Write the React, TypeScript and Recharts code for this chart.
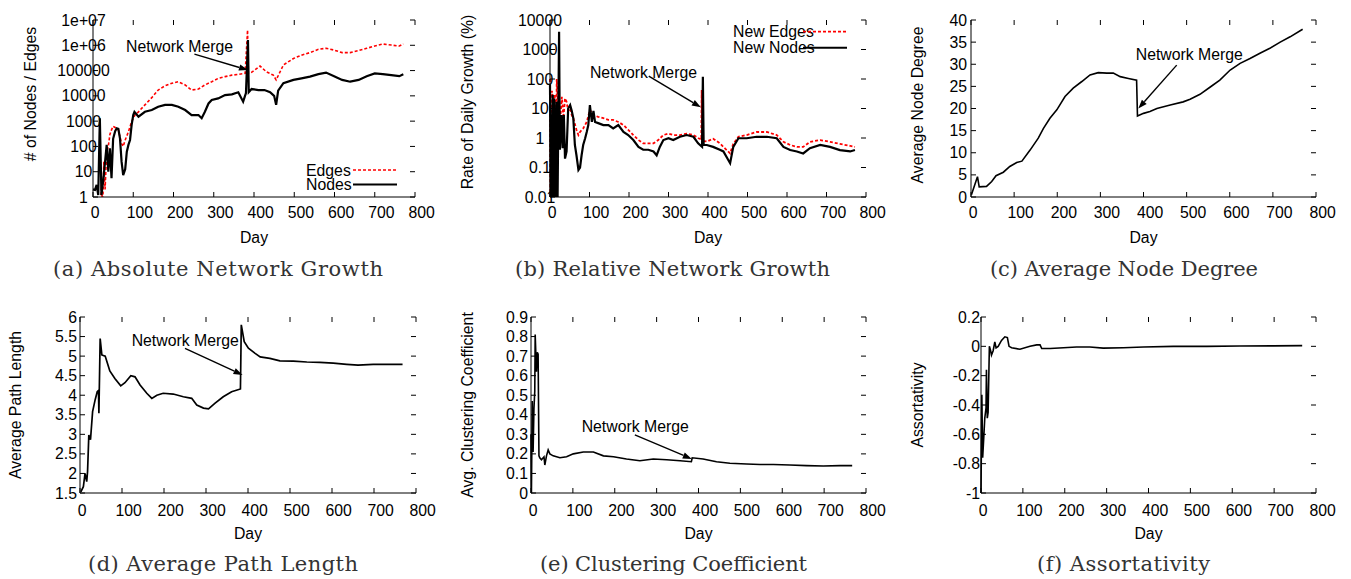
import React from "react";
import {
  Legend,
  Line,
  LineChart,
  ReferenceDot,
  ReferenceLine,
  XAxis,
  YAxis,
} from "recharts";

const FONT = '"Liberation Sans", Arial, Helvetica, sans-serif';
const FS = 15.8;
const TICK = 5;

const dayTicks = [0, 100, 200, 300, 400, 500, 600, 700, 800];

// (a) absolute network growth
const absNodeDays = [0, 5, 9, 13, 17, 21, 26, 30, 34, 38, 42, 46, 50, 55, 59, 63, 67, 71, 75, 80, 84, 88, 92, 96, 100, 103, 113, 129, 146, 162, 179, 196, 212, 229, 245, 262, 270, 278, 287, 295, 311, 328, 345, 361, 373, 380, 385, 387, 394, 411, 426, 440, 450, 455, 460, 473, 498, 518, 539, 560, 579, 599, 619, 639, 660, 680, 700, 720, 741, 761, 771];
const absNodes = [2, 1.9, 3, 1.2, 1300, 1.2, 5.6, 25, 115, 10, 85, 5.6, 200, 400, 520, 500, 210, 25, 7.4, 12.6, 62, 115, 180, 710, 1740, 2340, 1500, 2340, 2750, 3700, 4400, 4400, 3700, 2750, 1740, 1740, 1300, 2340, 5000, 6900, 7900, 10700, 11500, 13800, 5900, 13000, 1600000, 14000, 18600, 17000, 17000, 14000, 10000, 4400, 16000, 31600, 42700, 49000, 57500, 72400, 83000, 60000, 42700, 36300, 42700, 60000, 77600, 72400, 66000, 60000, 70800];
const absEdgeDays = [18, 21, 24, 27, 30, 34, 38, 42, 46, 50, 55, 63, 71, 75, 80, 88, 96, 104, 113, 129, 146, 162, 179, 196, 212, 229, 245, 262, 278, 295, 311, 328, 345, 361, 378, 384, 386, 394, 415, 431, 448, 455, 473, 498, 518, 539, 560, 579, 599, 619, 639, 660, 680, 700, 720, 741, 761, 771];
const absEdges = [0.3, 3, 0.4, 25, 2, 60, 100, 300, 450, 630, 560, 450, 130, 100, 180, 380, 950, 1740, 2340, 4400, 8500, 17000, 25000, 31600, 36300, 27000, 17000, 18600, 27000, 36300, 49000, 57500, 66000, 70800, 77600, 4000000, 80000, 85000, 150000, 89000, 66000, 42700, 166000, 300000, 407000, 513000, 692000, 760000, 646000, 513000, 513000, 617000, 760000, 933000, 1120000, 1020000, 933000, 1120000];
const absTicks = [1, 10, 100, 1000, 10000, 100000, 1000000, 10000000];
const absTickLabels = ["1", "10", "100", "1000", "10000", "100000", "1e+06", "1e+07"];

// (b) relative network growth, % per day
const relNodeDays = [0, 2, 7, 8, 11, 13, 17, 19, 23, 25, 29, 32, 35, 38, 42, 46, 51, 55, 59, 63, 67, 72, 76, 80, 84, 89, 93, 97, 101, 106, 110, 114, 122, 135, 148, 160, 173, 186, 198, 211, 224, 236, 249, 262, 270, 278, 287, 300, 312, 329, 346, 363, 375, 385, 387, 389, 397, 413, 430, 439, 456, 464, 477, 498, 523, 549, 574, 591, 608, 625, 641, 658, 684, 709, 734, 760, 772];
const relNodes = [63, 0.005, 29, 0.005, 22, 0.005, 17, 0.005, 4000, 0.4, 6, 0.45, 6, 0.2, 0.35, 10, 13, 8.3, 4.7, 0.58, 0.26, 0.083, 0.1, 0.26, 0.58, 0.98, 1.6, 2.75, 13, 3.5, 8.3, 3.5, 3.2, 2.75, 2.75, 2.1, 2.75, 1.6, 1.26, 0.85, 0.5, 0.4, 0.4, 0.35, 0.26, 0.5, 0.85, 0.98, 0.85, 1.1, 1.26, 1.1, 0.66, 0.5, 120, 0.58, 0.58, 0.5, 0.4, 0.35, 0.14, 0.5, 0.98, 0.98, 1.1, 1.1, 0.98, 0.5, 0.39, 0.35, 0.3, 0.45, 0.58, 0.5, 0.39, 0.35, 0.39];
const relEdgeDays = [0, 1, 5, 8, 12, 15, 17, 21, 25, 30, 34, 38, 42, 46, 51, 55, 59, 67, 72, 76, 84, 93, 101, 110, 122, 135, 148, 160, 173, 186, 198, 211, 224, 236, 249, 262, 274, 287, 300, 312, 329, 346, 363, 376, 383, 384, 385, 397, 413, 430, 439, 456, 464, 477, 498, 523, 549, 574, 591, 608, 625, 641, 658, 684, 709, 734, 760, 772];
const relEdges = [100, 0.005, 40, 12, 30, 0.005, 100, 8, 2.75, 25, 4.7, 22, 17, 8.3, 10, 6, 4.7, 1.9, 1.26, 1.6, 2.1, 3.5, 8.9, 6, 5.2, 4.7, 4.1, 4.1, 3.5, 2.75, 1.9, 1.26, 0.85, 0.66, 0.66, 0.66, 0.85, 1.26, 1.4, 1.26, 1.26, 1.4, 1.26, 0.98, 0.9, 42, 0.8, 0.76, 0.95, 0.66, 0.5, 0.3, 0.63, 1.1, 1.26, 1.6, 1.6, 1.26, 0.74, 0.58, 0.5, 0.5, 0.74, 0.85, 0.74, 0.63, 0.54, 0.5];
const relTicks = [0.01, 0.1, 1, 10, 100, 1000, 10000];
const relTickLabels = ["0.01", "0.1", "1", "10", "100", "1000", "10000"];

// (c) average node degree
const degreeDays = [1, 15, 19, 36, 48, 58, 75, 90, 106, 118, 137, 156, 168, 183, 199, 218, 237, 257, 276, 295, 315, 330, 346, 365, 384, 386, 400, 415, 431, 462, 492, 508, 531, 554, 577, 601, 624, 647, 670, 693, 717, 740, 769];
const degree = [0.5, 4.6, 2.3, 2.4, 3.5, 4.8, 5.6, 6.9, 7.8, 8.1, 10.6, 13.3, 15.5, 17.8, 19.7, 22.7, 24.6, 26.1, 27.6, 28.1, 28.0, 28.0, 27.2, 26.8, 26.4, 18.3, 18.9, 19.3, 20.0, 20.8, 21.5, 22.1, 23.2, 24.8, 26.4, 28.7, 30.2, 31.3, 32.5, 33.6, 35.0, 36.2, 37.9];
const degreeTicks = [0, 5, 10, 15, 20, 25, 30, 35, 40];

// (d) average path length
const pathDays = [2, 8, 12, 16, 18, 21, 25, 30, 36, 41, 44, 45, 48, 52, 60, 64, 71, 83, 97, 107, 121, 131, 143, 159, 171, 183, 198, 222, 246, 266, 278, 294, 306, 321, 341, 361, 382, 384, 391, 401, 417, 429, 452, 476, 508, 540, 571, 603, 635, 662, 698, 730, 768];
const pathLength = [1.53, 1.66, 2.0, 1.79, 2.05, 2.98, 2.86, 3.58, 3.88, 4.09, 4.12, 3.54, 5.45, 5.03, 5.0, 4.86, 4.62, 4.43, 4.24, 4.32, 4.5, 4.47, 4.26, 4.05, 3.92, 4.0, 4.05, 4.03, 3.96, 3.92, 3.75, 3.67, 3.65, 3.79, 3.96, 4.09, 4.16, 5.8, 5.37, 5.2, 5.07, 4.98, 4.94, 4.88, 4.87, 4.85, 4.84, 4.82, 4.79, 4.77, 4.79, 4.79, 4.79];
const pathTicks = [1.5, 2, 2.5, 3, 3.5, 4, 4.5, 5, 5.5, 6];

// (e) clustering coefficient
const clusterDays = [0, 1, 3, 5, 7, 9, 10, 13, 15, 17, 19, 21, 25, 31, 33, 37, 41, 45, 53, 69, 85, 101, 125, 149, 173, 197, 228, 260, 292, 324, 356, 383, 385, 411, 443, 475, 515, 547, 579, 618, 658, 698, 738, 767];
const cluster = [0.3, 0, 0.47, 0.21, 0.43, 0.52, 0.81, 0.62, 0.72, 0.71, 0.19, 0.18, 0.17, 0.185, 0.143, 0.19, 0.22, 0.2, 0.19, 0.18, 0.185, 0.2, 0.21, 0.21, 0.19, 0.185, 0.174, 0.165, 0.174, 0.17, 0.165, 0.16, 0.18, 0.174, 0.16, 0.152, 0.148, 0.146, 0.146, 0.143, 0.14, 0.138, 0.14, 0.14];
const clusterTicks = [0, 0.1, 0.2, 0.3, 0.4, 0.5, 0.6, 0.7, 0.8, 0.9];

// (f) assortativity
const assortDays = [0, 2, 4, 7, 9, 12, 13, 15, 17, 20, 23, 25, 29, 33, 36, 41, 49, 57, 63, 67, 73, 93, 117, 133, 141, 145, 165, 197, 228, 260, 292, 340, 388, 459, 539, 618, 698, 767];
const assort = [-1.0, -0.33, -0.76, -0.6, -0.49, -0.42, -0.16, -0.49, -0.45, 0.0, -0.03, -0.06, -0.03, 0.03, -0.01, 0.0, 0.04, 0.065, 0.06, 0.0, -0.01, -0.02, 0.0, 0.01, 0.01, -0.015, -0.015, -0.01, -0.005, -0.005, -0.012, -0.01, -0.005, 0.0, 0.0, 0.002, 0.003, 0.005];
const assortTicks = [-1, -0.8, -0.6, -0.4, -0.2, 0, 0.2];

const pts = (days: number[], vals: number[]) =>
  days.map((d, i) => ({ d, v: vals[i] }));

const txt = { fontFamily: FONT, fontSize: FS, fill: "#000" };

type Rect = { left: number; right: number; top: number; bottom: number };

// gnuplot/matlab style: inward ticks on all four sides
function xTick(plot: Rect, labelY: number) {
  return (props: any) => {
    const { x, payload } = props;
    const label = String(payload.value);
    return (
      <g>
        <line x1={x} x2={x} y1={plot.bottom} y2={plot.bottom - TICK} stroke="#000" />
        <line x1={x} x2={x} y1={plot.top} y2={plot.top + TICK} stroke="#000" />
        <text x={x + 2.2 * label.length} y={labelY} textAnchor="middle" dominantBaseline="central" {...txt}>
          {label}
        </text>
      </g>
    );
  };
}

function yTick(plot: Rect, ticks: number[], labels: string[], labelX: number, anchor: "middle" | "end") {
  return (props: any) => {
    const { y, payload } = props;
    const i = ticks.indexOf(payload.value);
    return (
      <g>
        <line x1={plot.left} x2={plot.left + TICK} y1={y} y2={y} stroke="#000" />
        <line x1={plot.right} x2={plot.right - TICK} y1={y} y2={y} stroke="#000" />
        <text x={labelX} y={y} textAnchor={anchor} dominantBaseline="central" {...txt}>
          {i >= 0 ? labels[i] : String(payload.value)}
        </text>
      </g>
    );
  };
}

function arrowShape(props: any) {
  const { x1, y1, x2, y2 } = props;
  const a = Math.atan2(y2 - y1, x2 - x1);
  const len = 9;
  const half = 3.2;
  const bx = x2 - len * Math.cos(a);
  const by = y2 - len * Math.sin(a);
  const px = -Math.sin(a) * half;
  const py = Math.cos(a) * half;
  return (
    <g>
      <line x1={x1} y1={y1} x2={bx} y2={by} stroke="#000" strokeWidth={1.4} />
      <polygon points={`${x2},${y2} ${bx + px},${by + py} ${bx - px},${by - py}`} fill="#000" />
    </g>
  );
}

const mergeText = (props: any) => (
  <text x={props.cx} y={props.cy} dominantBaseline="central" {...txt}>
    Network Merge
  </text>
);

type Series = { name: string; data: { d: number; v: number }[]; stroke: string; width: number; dash?: string };
type KeyItem = { label: string; y: number; stroke: string; width: number; dash?: string };

interface PanelProps {
  left: number;
  top: number;
  width: number;
  height: number;
  plot: Rect;
  xLabelY: number;
  scale: "log" | "linear";
  domain: [number, number];
  ticks: number[];
  labels: string[];
  labelX: number;
  anchor: "middle" | "end";
  yTitle: string;
  yTitleAt: [number, number];
  dayAt: [number, number];
  series: Series[];
  merge?: { text: [number, number]; from: [number, number]; to: [number, number] };
  keyBox?: { left: number; top: number; width: number; lineFrom: number; lineTo: number; items: KeyItem[] };
}

function Panel(p: PanelProps) {
  const margin = { top: p.plot.top, right: p.width - p.plot.right, bottom: 0, left: 0 };
  return (
    <div style={{ position: "absolute", left: p.left, top: p.top }}>
      <LineChart width={p.width} height={p.height} margin={margin}>
        <XAxis
          dataKey="d"
          type="number"
          domain={[0, 800]}
          ticks={dayTicks}
          interval={0}
          height={p.height - p.plot.bottom}
          axisLine={{ stroke: "#000" }}
          tickLine={false}
          tick={xTick(p.plot, p.xLabelY)}
          label={() => (
            <text x={p.dayAt[0]} y={p.dayAt[1]} textAnchor="middle" dominantBaseline="central" {...txt}>
              Day
            </text>
          )}
        />
        <XAxis xAxisId="top" orientation="top" type="number" domain={[0, 800]} height={0} tick={false} tickLine={false} axisLine={{ stroke: "#000" }} />
        <YAxis
          type="number"
          scale={p.scale}
          domain={p.domain}
          ticks={p.ticks}
          interval={0}
          allowDataOverflow
          width={p.plot.left}
          axisLine={{ stroke: "#000" }}
          tickLine={false}
          tick={yTick(p.plot, p.ticks, p.labels, p.labelX, p.anchor)}
          label={() => (
            <text
              x={p.yTitleAt[0]}
              y={p.yTitleAt[1]}
              transform={`rotate(-90 ${p.yTitleAt[0]} ${p.yTitleAt[1]})`}
              textAnchor="middle"
              dominantBaseline="central"
              {...txt}
            >
              {p.yTitle}
            </text>
          )}
        />
        <YAxis yAxisId="right" orientation="right" type="number" domain={[0, 1]} width={0} tick={false} tickLine={false} axisLine={{ stroke: "#000" }} />
        {p.series.map((s) => (
          <Line
            key={s.name}
            name={s.name}
            data={s.data}
            dataKey="v"
            type="linear"
            stroke={s.stroke}
            strokeWidth={s.width}
            strokeDasharray={s.dash}
            dot={false}
            activeDot={false}
            isAnimationActive={false}
          />
        ))}
        {p.merge && (
          <ReferenceLine
            segment={[
              { x: p.merge.from[0], y: p.merge.from[1] },
              { x: p.merge.to[0], y: p.merge.to[1] },
            ]}
            shape={arrowShape}
          />
        )}
        {p.merge && <ReferenceDot x={p.merge.text[0]} y={p.merge.text[1]} shape={mergeText} />}
        {p.keyBox && (
          <Legend
            layout="horizontal"
            verticalAlign="middle"
            align="center"
            wrapperStyle={{ left: p.keyBox.left, top: p.keyBox.top, width: p.keyBox.width, height: 36, lineHeight: 0 }}
            content={() => (
              <svg width={p.keyBox!.width} height={36} style={{ display: "block" }}>
                {p.keyBox!.items.map((k) => (
                  <g key={k.label}>
                    <text x={0} y={k.y} dominantBaseline="central" {...txt}>
                      {k.label}
                    </text>
                    <line x1={p.keyBox!.lineFrom} x2={p.keyBox!.lineTo} y1={k.y} y2={k.y} stroke={k.stroke} strokeWidth={k.width} strokeDasharray={k.dash} />
                  </g>
                ))}
              </svg>
            )}
          />
        )}
      </LineChart>
    </div>
  );
}

function Caption({ x, y, w, children }: { x: number; y: number; w: number; children: string }) {
  return (
    <text x={x} y={y} textAnchor="middle" textLength={w} lengthAdjust="spacing" fontFamily='"DejaVu Serif", serif' fontSize={21} fill="#333">
      {children}
    </text>
  );
}

const RED = "#ff0000";
const BLACK = "#000000";

export default function App() {
  return (
    <div style={{ position: "absolute", left: 0, top: 0, width: 1351, height: 579, background: "#fff" }}>
      <Panel
        left={0} top={0} width={440} height={250}
        plot={{ left: 93, right: 415, top: 20, bottom: 197 }}
        xLabelY={212}
        scale="log" domain={[1, 10000000]} ticks={absTicks} labels={absTickLabels}
        labelX={83.5} anchor="middle"
        yTitle="# of Nodes / Edges" yTitleAt={[30, 94]} dayAt={[254, 237]}
        series={[
          { name: "Edges", data: pts(absEdgeDays, absEdges), stroke: RED, width: 1.6, dash: "3 2" },
          { name: "Nodes", data: pts(absNodeDays, absNodes), stroke: BLACK, width: 2.2 },
        ]}
        merge={{ text: [82, 880000], from: [252, 450000], to: [385, 105000] }}
        keyBox={{
          left: 306, top: 160, width: 100, lineFrom: 47, lineTo: 91,
          items: [
            { label: "Edges", y: 10, stroke: RED, width: 1.6, dash: "3 2" },
            { label: "Nodes", y: 24.5, stroke: BLACK, width: 2 },
          ],
        }}
      />
      <Panel
        left={440} top={0} width={460} height={250}
        plot={{ left: 110, right: 426, top: 20, bottom: 197 }}
        xLabelY={212}
        scale="log" domain={[0.01, 10000]} ticks={relTicks} labels={relTickLabels}
        labelX={100} anchor="middle"
        yTitle="Rate of Daily Growth (%)" yTitleAt={[27, 102]} dayAt={[268, 237]}
        series={[
          { name: "New Edges", data: pts(relEdgeDays, relEdges), stroke: RED, width: 1.8, dash: "3 2" },
          { name: "New Nodes", data: pts(relNodeDays, relNodes), stroke: BLACK, width: 2.2 },
        ]}
        merge={{ text: [101, 172], from: [250, 125], to: [382, 11] }}
        keyBox={{
          left: 293, top: 20, width: 120, lineFrom: 70, lineTo: 114,
          items: [
            { label: "New Edges", y: 11.7, stroke: RED, width: 1.8, dash: "3 2" },
            { label: "New Nodes", y: 27.7, stroke: BLACK, width: 2 },
          ],
        }}
      />
      <Panel
        left={880} top={0} width={471} height={250}
        plot={{ left: 91, right: 436, top: 20, bottom: 197 }}
        xLabelY={212}
        scale="linear" domain={[0, 40]} ticks={degreeTicks} labels={degreeTicks.map(String)}
        labelX={87} anchor="end"
        yTitle="Average Node Degree" yTitleAt={[37, 105]} dayAt={[263.5, 237]}
        series={[{ name: "Degree", data: pts(degreeDays, degree), stroke: BLACK, width: 1.6 }]}
        merge={{ text: [382, 32.1], from: [477, 29.8], to: [388, 20.0] }}
      />
      <Panel
        left={0} top={290} width={440} height={255}
        plot={{ left: 80, right: 416, top: 27, bottom: 203 }}
        xLabelY={220.5}
        scale="linear" domain={[1.5, 6]} ticks={pathTicks} labels={pathTicks.map(String)}
        labelX={77} anchor="end"
        yTitle="Average Path Length" yTitleAt={[15, 115]} dayAt={[248, 243]}
        series={[{ name: "Path", data: pts(pathDays, pathLength), stroke: BLACK, width: 1.7 }]}
        merge={{ text: [123, 5.41], from: [250, 5.2], to: [387, 4.52] }}
      />
      <Panel
        left={440} top={290} width={460} height={255}
        plot={{ left: 91, right: 426, top: 27, bottom: 203 }}
        xLabelY={220.5}
        scale="linear" domain={[0, 0.9]} ticks={clusterTicks} labels={clusterTicks.map(String)}
        labelX={88} anchor="end"
        yTitle="Avg. Clustering Coefficient" yTitleAt={[27, 115]} dayAt={[258.5, 243]}
        series={[{ name: "Clustering", data: pts(clusterDays, cluster), stroke: BLACK, width: 1.6 }]}
        merge={{ text: [121, 0.339], from: [248, 0.297], to: [384, 0.174] }}
      />
      <Panel
        left={880} top={290} width={471} height={255}
        plot={{ left: 101, right: 436, top: 27, bottom: 203 }}
        xLabelY={220.5}
        scale="linear" domain={[-1, 0.2]} ticks={assortTicks} labels={assortTicks.map(String)}
        labelX={100} anchor="end"
        yTitle="Assortativity" yTitleAt={[37, 115]} dayAt={[268.5, 243]}
        series={[{ name: "Assortativity", data: pts(assortDays, assort), stroke: BLACK, width: 1.6 }]}
      />
      <svg width={1351} height={579} style={{ position: "absolute", left: 0, top: 0, pointerEvents: "none" }}>
        <Caption x={218} y={276} w={330}>(a) Absolute Network Growth</Caption>
        <Caption x={672.5} y={276} w={315}>(b) Relative Network Growth</Caption>
        <Caption x={1124} y={276} w={268}>(c) Average Node Degree</Caption>
        <Caption x={223} y={571} w={270}>(d) Average Path Length</Caption>
        <Caption x={673.5} y={571} w={267}>(e) Clustering Coefficient</Caption>
        <Caption x={1123.5} y={571} w={173}>(f) Assortativity</Caption>
      </svg>
    </div>
  );
}
